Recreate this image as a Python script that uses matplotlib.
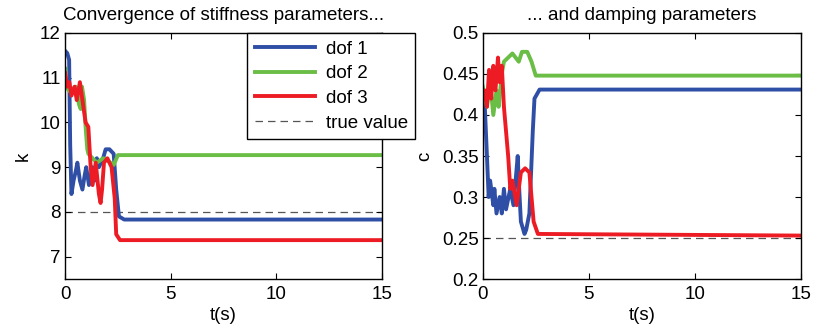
import matplotlib
matplotlib.use("Agg")
import matplotlib.pyplot as plt

plt.rcParams['font.family'] = ['Liberation Sans', 'DejaVu Sans']

# stiffness estimates k (time in s)
t_k1 = [0, 0.1, 0.19, 0.24, 0.3, 0.4, 0.5, 0.58, 0.7, 0.82, 0.92, 1.0, 1.13, 1.22, 1.29, 1.4, 1.5, 1.6, 1.7, 1.8, 1.92, 2.1, 2.3, 2.42, 2.55, 2.8, 15]
k1 = [11.6, 11.55, 11.4, 9.5, 8.4, 8.7, 8.9, 9.1, 8.7, 8.5, 8.8, 9.0, 8.6, 8.8, 9.0, 8.7, 9.2, 9.0, 9.1, 9.2, 9.4, 9.4, 9.3, 8.5, 7.9, 7.83, 7.83]
t_k2 = [0, 0.05, 0.2, 0.35, 0.5, 0.66, 0.74, 0.8, 0.9, 0.97, 1.05, 1.1, 1.3, 1.5, 1.8, 2.0, 2.3, 2.5, 15]
k2 = [11.2, 10.8, 10.7, 10.75, 10.8, 10.4, 10.3, 10.8, 10.5, 9.9, 9.4, 9.3, 9.2, 9.1, 9.2, 9.15, 9.05, 9.27, 9.27]
t_k3 = [0, 0.1, 0.2, 0.3, 0.45, 0.55, 0.7, 0.85, 0.97, 1.1, 1.21, 1.3, 1.45, 1.6, 1.68, 1.75, 1.84, 2.0, 2.2, 2.35, 2.42, 2.6, 15]
k3 = [11.1, 10.8, 10.9, 10.6, 10.8, 10.5, 10.9, 10.4, 10.0, 9.9, 9.0, 8.6, 9.1, 8.4, 8.2, 8.5, 9.1, 9.2, 9.0, 8.3, 7.5, 7.37, 7.37]
k_true = 8

# damping estimates c
t_c1 = [0, 0.1, 0.2, 0.28, 0.35, 0.5, 0.55, 0.65, 0.8, 0.9, 1.0, 1.1, 1.3, 1.45, 1.65, 1.7, 1.8, 1.97, 2.05, 2.2, 2.36, 2.44, 2.68, 15]
c1 = [0.43, 0.41, 0.35, 0.30, 0.32, 0.29, 0.31, 0.28, 0.30, 0.28, 0.31, 0.285, 0.31, 0.29, 0.35, 0.32, 0.27, 0.255, 0.26, 0.28, 0.38, 0.42, 0.431, 0.431]
t_c2 = [0, 0.2, 0.35, 0.5, 0.65, 0.75, 0.9, 1.0, 1.2, 1.4, 1.7, 1.85, 2.1, 2.3, 2.5, 15]
c2 = [0.435, 0.41, 0.44, 0.40, 0.43, 0.41, 0.45, 0.465, 0.47, 0.475, 0.465, 0.477, 0.477, 0.465, 0.448, 0.448]
t_c3 = [0, 0.1, 0.2, 0.3, 0.4, 0.5, 0.6, 0.72, 0.8, 0.9, 1.0, 1.1, 1.2, 1.3, 1.4, 1.6, 1.8, 2.0, 2.2, 2.4, 2.6, 15]
c3 = [0.42, 0.43, 0.41, 0.455, 0.42, 0.46, 0.43, 0.47, 0.44, 0.46, 0.41, 0.38, 0.35, 0.31, 0.32, 0.29, 0.33, 0.335, 0.33, 0.27, 0.255, 0.253]
c_true = 0.25

colors = ['#2f4fa6', '#6abd45', '#ed1c24']
lw = 2.8
fs = 13.5

fig = plt.figure(figsize=(8.14, 3.33), dpi=100)
ax1 = fig.add_axes([0.080, 0.162, 0.389, 0.739])
ax2 = fig.add_axes([0.593, 0.162, 0.391, 0.739])

ax1.plot(t_k1, k1, color=colors[0], lw=lw, label='dof 1')
ax1.plot(t_k2, k2, color=colors[1], lw=lw, label='dof 2')
ax1.plot(t_k3, k3, color=colors[2], lw=lw, label='dof 3')
ax1.axhline(k_true, color='#555555', ls=(0, (6, 4)), lw=0.9, label='true value', zorder=1)

ax2.plot(t_c1, c1, color=colors[0], lw=lw)
ax2.plot(t_c2, c2, color=colors[1], lw=lw)
ax2.plot(t_c3, c3, color=colors[2], lw=lw)
ax2.axhline(c_true, color='#555555', ls=(0, (6, 4)), lw=0.9, zorder=1)

ax1.set_xlim(0, 15)
ax1.set_ylim(6.5, 12)
ax1.set_yticks([7, 8, 9, 10, 11, 12])
ax2.set_xlim(0, 15)
ax2.set_ylim(0.2, 0.5)
ax2.set_yticks([0.2, 0.25, 0.3, 0.35, 0.4, 0.45, 0.5])
ax2.set_yticklabels(['0.2', '0.25', '0.3', '0.35', '0.4', '0.45', '0.5'])

for ax in (ax1, ax2):
    ax.set_xticks([0, 5, 10, 15])
    ax.tick_params(direction='in', top=True, right=True, labelsize=fs, length=4, pad=3)
    ax.tick_params(axis='x', pad=5)
    ax.set_xlabel('t(s)', fontsize=fs, labelpad=3)
    for s in ax.spines.values():
        s.set_linewidth(1.0)

ax1.set_ylabel('k', fontsize=fs, labelpad=6)
ax2.set_ylabel('c', fontsize=fs, labelpad=6)
ax1.set_title('Convergence of stiffness parameters...', fontsize=13.5, pad=9)
ax2.set_title('... and damping parameters', fontsize=13.5, pad=9)

leg = ax1.legend(loc='upper left', bbox_to_anchor=(247 / 814, 1 - 33 / 333),
                 bbox_transform=fig.transFigure, borderaxespad=0, fontsize=fs,
                 fancybox=False, edgecolor='black', framealpha=1, handlelength=3.2,
                 labelspacing=0.4, borderpad=0.4, handletextpad=0.6)
leg.get_frame().set_linewidth(1.0)

fig.savefig('out.png', dpi=100)
